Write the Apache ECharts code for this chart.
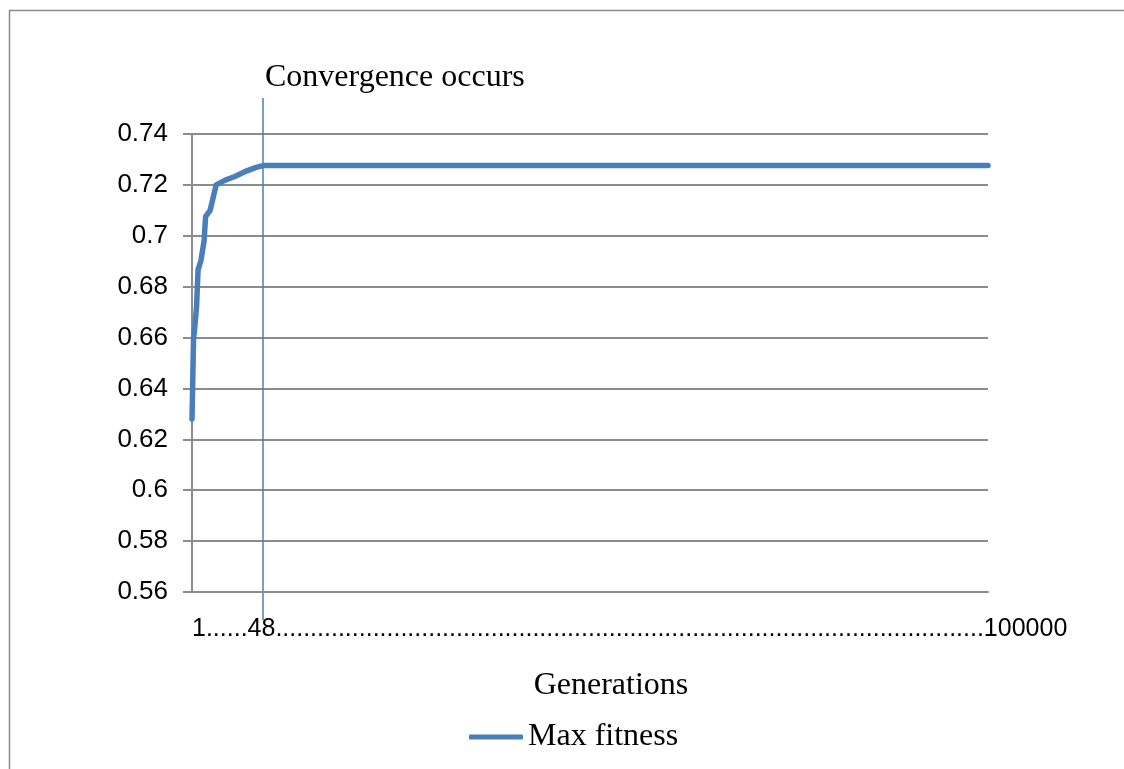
<!DOCTYPE html>
<html>
<head>
<meta charset="utf-8">
<title>Max fitness</title>
<script src="https://cdn.jsdelivr.net/npm/echarts@6/dist/echarts.min.js"></script>
<style>
  html, body { margin: 0; padding: 0; background: #ffffff; }
  #chart { width: 1124px; height: 769px; }
</style>
</head>
<body>
<div id="chart"></div>
<script>
// Generation positions along the axis (the last point runs out to the end of the run)
const generations = [1, 2, 3, 4, 5, 7, 9, 10, 13, 17, 23, 29, 36, 43, 48, 528];
// Best fitness reached at each of those generations
const maxFitness = [0.628, 0.659, 0.665, 0.672, 0.6865, 0.6905, 0.698, 0.7075, 0.710, 0.720, 0.7219, 0.7232, 0.7252, 0.7268, 0.7276, 0.7276];

const xMin = 1;
const xMax = 528;
const convergenceGen = 48;

const yTicks = { min: 0.56, max: 0.74, interval: 0.02 };
const xAxisText = '1' + '.'.repeat(6) + '48' + '.'.repeat(102) + '100000';
const seriesName = 'Max fitness';
const axisTitle = 'Generations';
const convergenceText = 'Convergence occurs';

const blue = '#4a7ebb';
const gridGray = '#8c8c8c';
const sans = '"Liberation Sans", Arial, sans-serif';
const serif = '"Liberation Serif", "Times New Roman", serif';

const chart = echarts.init(document.getElementById('chart'), null, { renderer: 'canvas' });

const option = {
  backgroundColor: '#ffffff',
  animation: false,
  grid: { left: 192, right: 136, top: 134, bottom: 177, containLabel: false },
  xAxis: {
    type: 'value',
    min: xMin,
    max: xMax,
    interval: xMax - xMin,
    name: axisTitle,
    nameLocation: 'middle',
    nameGap: 78,
    nameTextStyle: { fontFamily: serif, fontSize: 32, color: '#000', padding: [0, 0, 0, 42] },
    axisLine: { show: true, lineStyle: { color: gridGray, width: 2 } },
    axisTick: { show: false },
    splitLine: { show: false },
    axisLabel: {
      show: true,
      margin: 25,
      align: 'left',
      fontFamily: sans,
      fontSize: 25,
      color: '#000',
      formatter: v => (v === xMin ? xAxisText : '')
    }
  },
  yAxis: {
    type: 'value',
    min: yTicks.min,
    max: yTicks.max,
    interval: yTicks.interval,
    axisLine: { show: true, lineStyle: { color: gridGray, width: 2 } },
    axisTick: { show: true, inside: false, length: 9, lineStyle: { color: gridGray, width: 2 } },
    splitLine: { show: true, lineStyle: { color: gridGray, width: 2 } },
    axisLabel: {
      margin: 24,
      fontFamily: sans,
      fontSize: 26,
      color: '#000',
      formatter: v => String(parseFloat(v.toFixed(2)))
    }
  },
  legend: {
    show: true,
    left: 464,
    top: 716,
    itemWidth: 54,
    itemHeight: 5,
    textStyle: { fontFamily: serif, fontSize: 32, color: '#000' },
    data: [{ name: seriesName, icon: 'roundRect', itemStyle: { color: blue } }]
  },
  series: [{
    name: seriesName,
    type: 'line',
    data: generations.map((g, i) => [g, maxFitness[i]]),
    showSymbol: false,
    symbol: 'none',
    smooth: false,
    lineStyle: { color: blue, width: 5.5, cap: 'round', join: 'round' },
    itemStyle: { color: blue },
    clip: false
  }]
};

chart.setOption(option);

// Convergence marker: a vertical rule at the convergence generation with its caption
const convX = Math.round(chart.convertToPixel({ xAxisIndex: 0 }, convergenceGen));
chart.setOption({
  graphic: [
    {
      type: 'rect',
      silent: true,
      z: -1,
      shape: { x: 9.5, y: 10.5, width: 1300, height: 900 },
      style: { fill: 'none', stroke: '#8a8a8a', lineWidth: 1.5 }
    },
    {
      type: 'line',
      silent: true,
      shape: { x1: convX, y1: 98, x2: convX, y2: 620 },
      style: { stroke: blue, lineWidth: 1.5 }
    },
    {
      type: 'text',
      silent: true,
      x: convX + 2,
      y: 62,
      style: { text: convergenceText, font: '32px ' + serif, fill: '#000' }
    }
  ]
});
</script>
</body>
</html>
